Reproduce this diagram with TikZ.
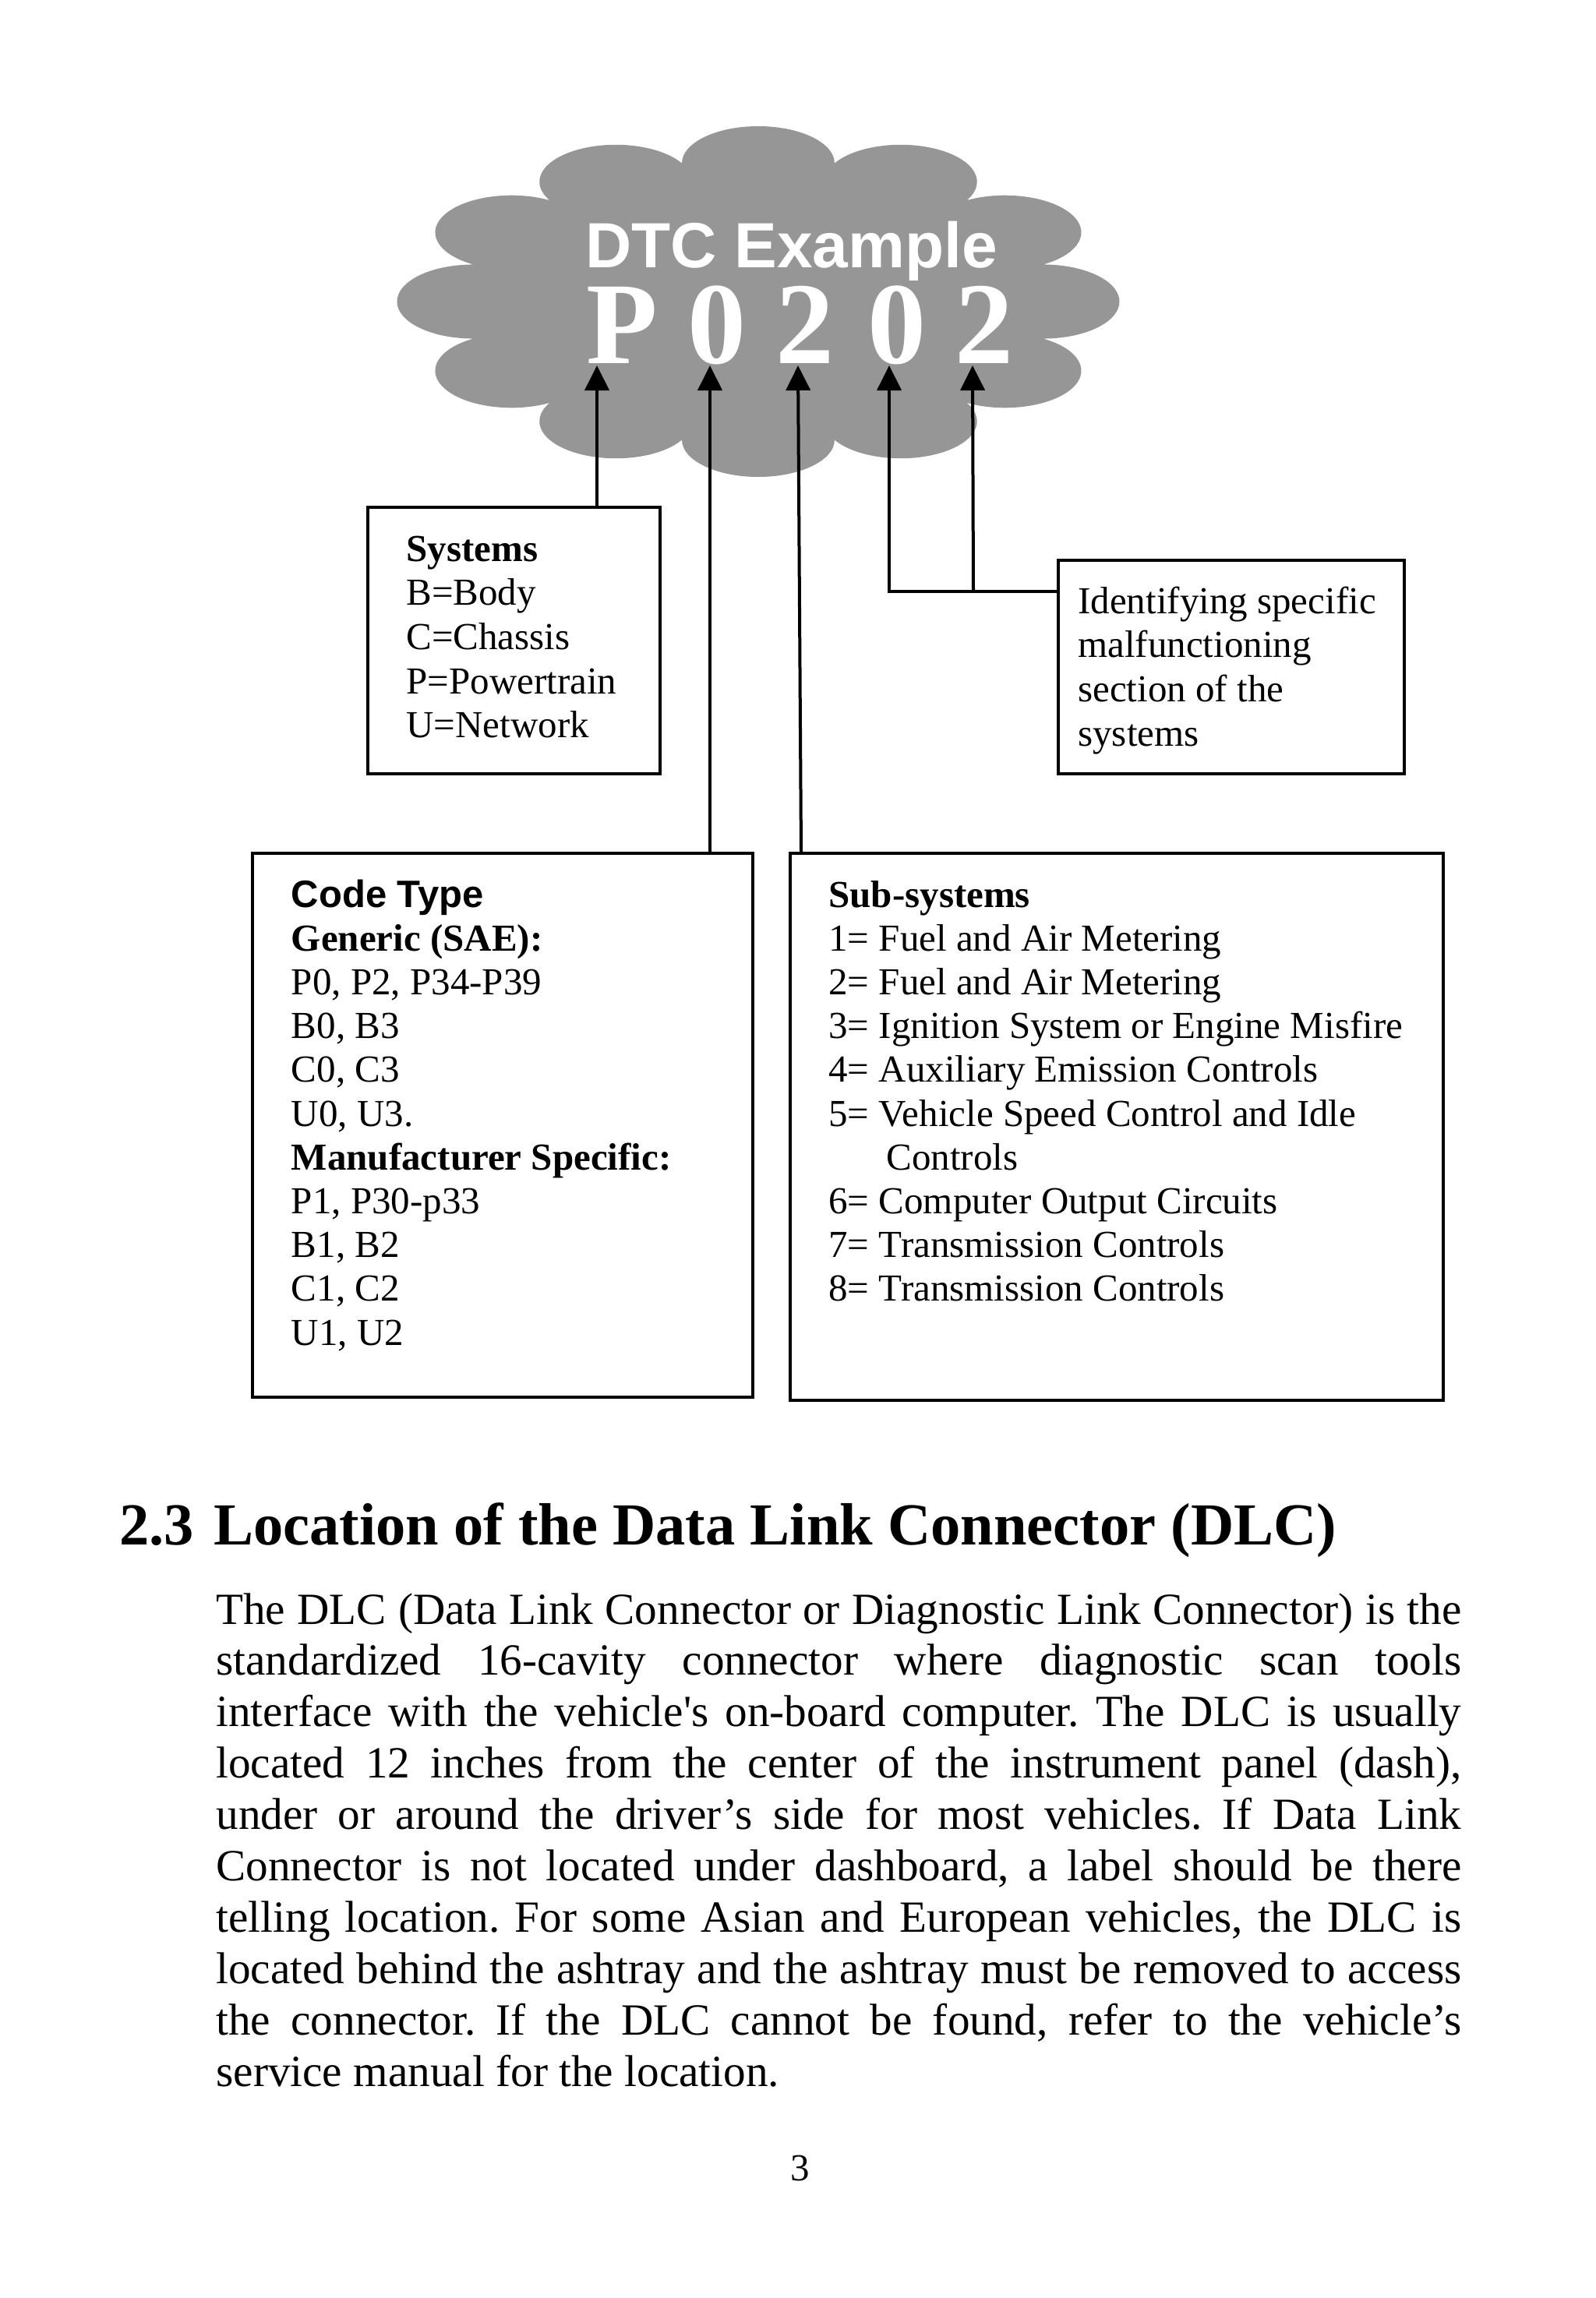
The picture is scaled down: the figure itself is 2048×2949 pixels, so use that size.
\documentclass[tikz,border=0pt]{standalone}
\usepackage{fontspec}
\newfontfamily\tnr{Liberation Serif}
\newfontfamily\arialf{Liberation Sans}
\usetikzlibrary{arrows.meta}
\definecolor{cloudgray}{RGB}{150,150,150}
\frenchspacing
\begin{document}
\begin{tikzpicture}[x=0.5pt,y=-0.5pt,
  box/.style={draw, line width=2pt, inner sep=0pt, anchor=north west},
  arr/.style={line width=2pt, -{Triangle[length=16pt,width=15.5pt]}},
  bt/.style={anchor=base west, inner sep=0pt, font=\tnr\fontsize{24.5pt}{28pt}\selectfont},
  digit/.style={anchor=base, inner sep=0pt, text=white, font=\tnr\bfseries\fontsize{75pt}{80pt}\selectfont},
  bodyl/.style={anchor=base west, inner sep=0pt, font=\tnr\fontsize{28.6pt}{33pt}\selectfont}]
\fill[white] (0,0) rectangle (2048,2949);
\useasboundingbox (0,0) rectangle (2048,2949);

% cloud
\begin{scope}[shift={(973,387)}, xscale=2.06]
\fill[cloudgray] (15:183.7) \foreach \a in {15,45,...,345} { arc[start angle=\a-75, end angle=\a+105, radius=47.55] } -- cycle;
\end{scope}

\node[anchor=base, inner sep=0pt, text=white, text depth=0pt, font=\arialf\bfseries\fontsize{41pt}{45pt}\selectfont] (dtc) at (1015.5,343) {DTC Example};
\node[digit] (cP) at (798,466) {P};
\node[digit] (c0a) at (920,466) {0};
\node[digit] (c2a) at (1033,466) {2};
\node[digit] (c0b) at (1151,466) {0};
\node[digit] (c2b) at (1263,466) {2};

% boxes
\node[box, minimum width=187.5pt, minimum height=171pt] (sys) at (470,649) {};
\node[box, minimum width=222pt, minimum height=137pt] (idb) at (1356,717) {};
\node[box, minimum width=321pt, minimum height=349pt] (code) at (322,1093) {};
\node[box, minimum width=419pt, minimum height=351pt] (sub) at (1012,1093) {};

% connector points
\coordinate (tP) at (766,469);
\coordinate (t0a) at (911,469);
\coordinate (t2a) at (1024,469);
\coordinate (b2a) at (1028,1093);
\coordinate (t0b) at (1141,469);
\coordinate (t2b) at (1248,469);
\coordinate (j) at (1141,759);
\coordinate (j2) at (1249,759);

\draw[arr] (sys.north -| tP) -- (tP);
\draw[arr] (code.north -| t0a) -- (t0a);
\draw[arr] (sub.north -| b2a) -- (t2a);
\draw[arr] (idb.west |- j) -| (t0b);
\draw[arr] (j2) -- (t2b);

% systems text
\node[bt] (s0) at (521,720) {\bfseries Systems};
\foreach \t [count=\i] in {B=Body, C=Chassis, P=Powertrain, U=Network}
  \node[bt] (s\i) at (521,{720+56.7*\i}) {\t};

% identify text
\foreach \t [count=\i from 0] in {Identifying specific, malfunctioning, section of the, systems}
  \node[bt] (id\i) at (1383,{787+56.7*\i}) {\t};

% code type text
\node[bt, font=\arialf\bfseries\fontsize{24.5pt}{28pt}\selectfont] (ct0) at (373.5,1164) {Code Type};
\foreach \t [count=\i] in {{\bfseries Generic (SAE):}, {P0, P2, P34-P39}, {B0, B3}, {C0, C3}, {U0, U3.}, {\bfseries Manufacturer Specific:}, {P1, P30-p33}, {B1, B2}, {C1, C2}, {U1, U2}}
  \node[bt] (ct\i) at (373.5,{1164+56.2*\i}) {\t};

% sub-systems text
\node[bt] (ss0) at (1063,1164) {\bfseries Sub-systems};
\node[bt] (ss1) at (1063,1220.2) {1= Fuel and Air Metering};
\node[bt] (ss2) at (1063,1276.4) {2= Fuel and Air Metering};
\node[bt] (ss3) at (1063,1332.6) {3= Ignition System or Engine Misfire};
\node[bt] (ss4) at (1063,1388.8) {4= Auxiliary Emission Controls};
\node[bt] (ss5) at (1063,1445.0) {5= Vehicle Speed Control and Idle};
\node[bt] (ss5b) at (1137,1501.2) {Controls};
\node[bt] (ss6) at (1063,1557.4) {6= Computer Output Circuits};
\node[bt] (ss7) at (1063,1613.6) {7= Transmission Controls};
\node[bt] (ss8) at (1063,1669.8) {8= Transmission Controls};

% heading
\node[anchor=base west, inner sep=0pt, font=\tnr\bfseries\fontsize{38.25pt}{42pt}\selectfont] (hnum) at (153,1982) {2.3};
\node[anchor=base west, inner sep=0pt, font=\tnr\bfseries\fontsize{38.25pt}{42pt}\selectfont] (htitle) at (274,1982) {Location of the Data Link Connector (DLC)};

% body
\node[bodyl] (b1) at (277,2084) {\makebox[799pt][s]{The DLC (Data Link Connector or Diagnostic Link Connector) is the}};
\node[bodyl] (b2) at (277,2149.9) {\makebox[799pt][s]{standardized 16-cavity connector where diagnostic scan tools}};
\node[bodyl] (b3) at (277,2215.8) {\makebox[799pt][s]{interface with the vehicle's on-board computer. The DLC is usually}};
\node[bodyl] (b4) at (277,2281.7) {\makebox[799pt][s]{located 12 inches from the center of the instrument panel (dash),}};
\node[bodyl] (b5) at (277,2347.6) {\makebox[799pt][s]{under or around the driver’s side for most vehicles. If Data Link}};
\node[bodyl] (b6) at (277,2413.5) {\makebox[799pt][s]{Connector is not located under dashboard, a label should be there}};
\node[bodyl] (b7) at (277,2479.4) {\makebox[799pt][s]{telling location. For some Asian and European vehicles, the DLC is}};
\node[bodyl] (b8) at (277,2545.3) {\makebox[799pt][s]{located behind the ashtray and the ashtray must be removed to access}};
\node[bodyl] (b9) at (277,2611.2) {\makebox[799pt][s]{the connector. If the DLC cannot be found, refer to the vehicle’s}};
\node[bodyl] (b10) at (277,2677.1) {service manual for the location.};

\node[anchor=base, inner sep=0pt, font=\tnr\fontsize{24.5pt}{28pt}\selectfont] (pg) at (1027,2798) {3};
\end{tikzpicture}
\end{document}
